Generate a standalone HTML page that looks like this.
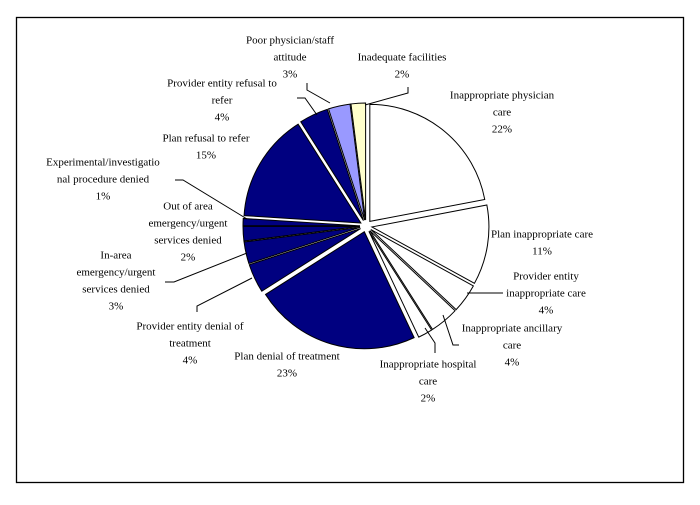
<!DOCTYPE html>
<html><head><meta charset="utf-8"><style>
body{margin:0;background:#fff}
svg text{font-family:"Liberation Serif",serif;font-size:11px;fill:#000}
</style></head><body>
<svg id="s" width="700" height="500" viewBox="0 0 700 500" xmlns="http://www.w3.org/2000/svg">
<rect x="16.5" y="17.5" width="667" height="465" fill="#fff" stroke="#000" stroke-width="1.3"/>
<g id="pie"></g>
<g fill="none" stroke="#000" stroke-width="1">
<polyline points="307,83 307,90 330,103"/>
<polyline points="297,98 305,98 317,115"/>
<polyline points="408,87 408,93 365,105"/>
<polyline points="175,180 183,180 247,219"/>
<polyline points="247,253 174,282 165,282"/>
<polyline points="252,278 197,306 197,312"/>
<polyline points="467,293 503,293"/>
<polyline points="443,315 453,345 459,345"/>
<polyline points="425,328 435,343 435,353"/>
</g>
<g text-anchor="middle" dominant-baseline="middle">
<text x="290" y="41">Poor physician/staff</text><text x="290" y="58">attitude</text><text x="290" y="75">3%</text>
<text x="402" y="58">Inadequate facilities</text><text x="402" y="75">2%</text>
<text x="502" y="96">Inappropriate physician</text><text x="502" y="113">care</text><text x="502" y="130">22%</text>
<text x="542" y="235">Plan inappropriate care</text><text x="542" y="252">11%</text>
<text x="546" y="277">Provider entity</text><text x="546" y="294">inappropriate care</text><text x="546" y="311">4%</text>
<text x="512" y="329">Inappropriate ancillary</text><text x="512" y="346">care</text><text x="512" y="363">4%</text>
<text x="428" y="365">Inappropriate hospital</text><text x="428" y="382">care</text><text x="428" y="399">2%</text>
<text x="287" y="357">Plan denial of treatment</text><text x="287" y="374">23%</text>
<text x="190" y="327">Provider entity denial of</text><text x="190" y="344">treatment</text><text x="190" y="361">4%</text>
<text x="116" y="256">In-area</text><text x="116" y="273">emergency/urgent</text><text x="116" y="290">services denied</text><text x="116" y="307">3%</text>
<text x="188" y="207">Out of area</text><text x="188" y="224">emergency/urgent</text><text x="188" y="241">services denied</text><text x="188" y="258">2%</text>
<text x="103" y="163">Experimental/investigatio</text><text x="103" y="180">nal procedure denied</text><text x="103" y="197">1%</text>
<text x="206" y="139">Plan refusal to refer</text><text x="206" y="156">15%</text>
<text x="222" y="84">Provider entity refusal to</text><text x="222" y="101">refer</text><text x="222" y="118">4%</text>
</g>
</svg>
<script>
var d=[[22,'#fff'],[11,'#fff'],[4,'#fff'],[4,'#fff'],[2,'#fff'],[23,'#000080'],[4,'#000080'],[3,'#000080'],[2,'#000080'],[1,'#000080'],[15,'#000080'],[4,'#000080'],[3,'#9999ff'],[2,'#ffffcc']];
var cx=366,cy=226,r=117,off=6,a=0,h='';
d.forEach(function(s){
 var a0=a*Math.PI*2/100,a1=(a+s[0])*Math.PI*2/100,m=(a0+a1)/2;a+=s[0];
 var ox=cx+off*Math.sin(m),oy=cy-off*Math.cos(m);
 var x0=ox+r*Math.sin(a0),y0=oy-r*Math.cos(a0),x1=ox+r*Math.sin(a1),y1=oy-r*Math.cos(a1);
 h+='<path d="M'+ox+','+oy+'L'+x0+','+y0+'A'+r+','+r+' 0 '+(s[0]>50?1:0)+' 1 '+x1+','+y1+'Z" fill="'+s[1]+'" stroke="#000" stroke-width="1"/>';
});
document.getElementById('pie').innerHTML=h;
</script>
</body></html>
